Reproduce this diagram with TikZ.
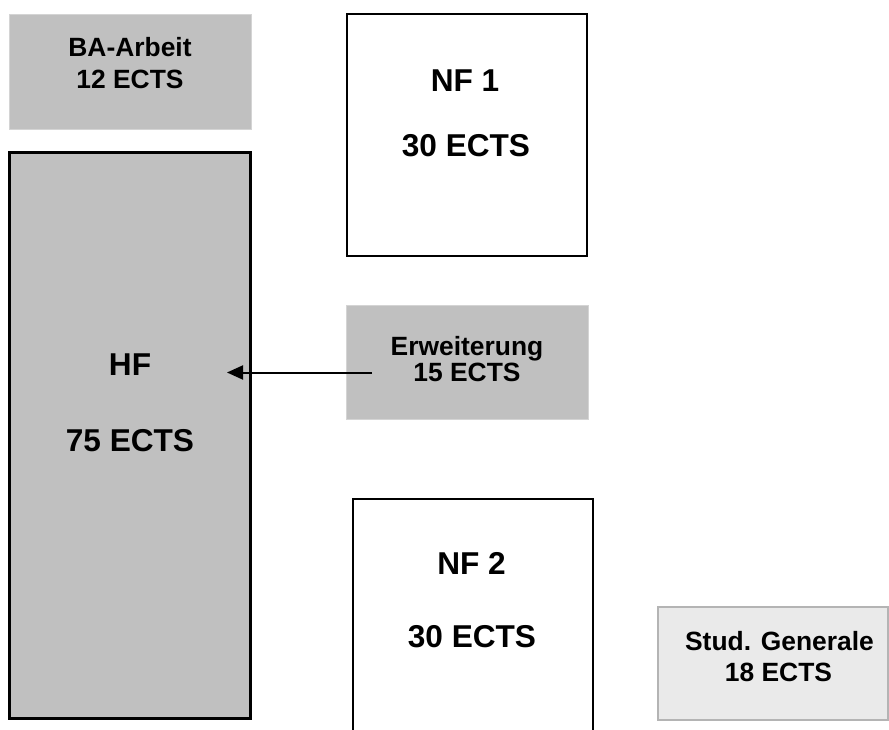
\documentclass[tikz,border=0pt]{standalone}
\usepackage{fontspec}
\setmainfont{Liberation Sans}
\usetikzlibrary{arrows.meta}
\definecolor{boxgray}{HTML}{C0C0C0}
\definecolor{lightbox}{HTML}{EAEAEA}
\definecolor{lightedge}{HTML}{B4B4B4}
\definecolor{faintedge}{HTML}{D4D4D4}
\tikzset{
  box/.style={rectangle, inner sep=0pt, outer sep=0pt, anchor=north west},
  smalltxt/.style={font=\fontsize{26.4}{30}\selectfont\bfseries, anchor=base, inner sep=0pt},
  bigtxt/.style={font=\fontsize{31.6}{36}\selectfont\bfseries, anchor=base, inner sep=0pt},
}
\begin{document}
\begin{tikzpicture}[x=1pt,y=-1pt]
\useasboundingbox (0,0) rectangle (889,730);
% boxes
\node[box, fill=boxgray, draw=faintedge, line width=0.5pt, minimum width=242pt, minimum height=115pt] (ba) at (9,14) {};
\node[box, fill=boxgray, draw=black, line width=2.5pt, minimum width=241pt, minimum height=566pt] (hf) at (9.5,152.5) {};
\node[box, fill=white, draw=black, line width=2pt, minimum width=240.5pt, minimum height=242pt] (nf1) at (346.5,14.5) {};
\node[box, fill=boxgray, draw=faintedge, line width=0.5pt, minimum width=242pt, minimum height=114pt] (erw) at (346,305) {};
\node[box, fill=lightbox, draw=lightedge, line width=1.5pt, minimum width=230pt, minimum height=113pt] (sg) at (658,607) {};
% NF 2 box, cut off at the bottom edge
\draw[line width=2pt, line join=miter] (352.5,731) -- (352.5,498.5) -- (592.5,498.5) -- (592.5,731);
% texts
\node[smalltxt] (baT1) at (130,57) {BA-Arbeit};
\node[smalltxt] (baT2) at (130,89) {12 ECTS};
\node[bigtxt] (nf1T1) at (465,92) {NF 1};
\node[bigtxt] (nf1T2) at (466,157) {30 ECTS};
\node[smalltxt] (erwT1) at (467,355) {Erweiterung};
\node[smalltxt] (erwT2) at (467,381) {15 ECTS};
\node[bigtxt] (hfT1) at (130,375) {HF};
\node[bigtxt] (hfT2) at (130,451) {75 ECTS};
\node[bigtxt] (nf2T1) at (471.5,574) {NF 2};
\node[bigtxt] (nf2T2) at (472,647) {30 ECTS};
\node[smalltxt] (sgT1) at (779.5,650) {Stud. Generale};
\node[smalltxt] (sgT2) at (778.5,681) {18 ECTS};
% arrow
\coordinate (arrS) at (372,372.5);
\coordinate (arrE) at (227,372.5);
\draw[-{Triangle[length=16pt,width=14pt]}, line width=2pt] (arrS) -- (arrE);
\end{tikzpicture}
\end{document}
